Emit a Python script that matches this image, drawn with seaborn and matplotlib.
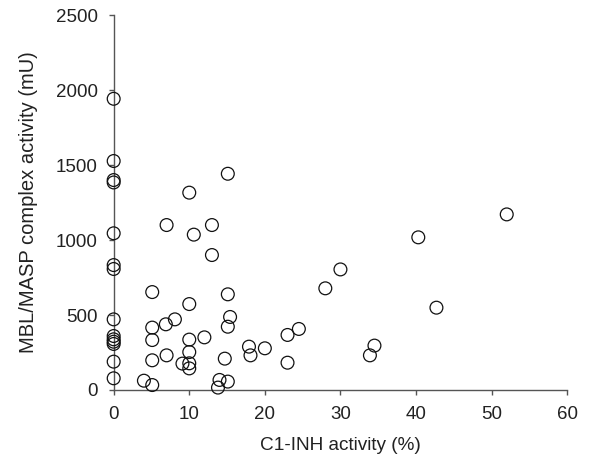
import matplotlib
matplotlib.use("Agg")
import matplotlib.pyplot as plt
import seaborn as sns
import pandas as pd

# C1-INH activity (%) vs MBL/MASP complex activity (mU)
c1_inh = [0, 0, 0, 0, 0, 0, 0, 0, 0, 0, 0, 0, 0, 0,
          15.1, 10.0, 7.0, 10.6, 13.0, 13.0, 5.1, 15.1, 10.0, 8.1,
          6.9, 5.1, 15.4, 15.1, 5.1, 10.0, 12.0, 10.0, 7.0, 5.1,
          9.1, 10.0, 10.0, 14.7, 17.9, 18.1, 20.0, 23.0, 24.5, 23.0,
          4.0, 5.1, 14.0, 13.8, 15.1, 28.0, 30.0, 40.3, 52.0, 42.7,
          34.5, 33.9]
mbl_masp = [1942, 1527, 1400, 1384, 1045, 833, 807, 471, 360, 338, 322, 307, 189, 78,
            1442, 1316, 1100, 1036, 1100, 900, 653, 638, 573, 471,
            438, 416, 487, 422, 333, 336, 351, 253, 231, 198,
            176, 178, 144, 209, 289, 231, 278, 367, 407, 182,
            62, 33, 67, 16, 56, 678, 804, 1018, 1171, 549,
            296, 231]

x_ticks = [0, 10, 20, 30, 40, 50, 60]
y_ticks = [0, 500, 1000, 1500, 2000, 2500]

df = pd.DataFrame({"c1_inh": c1_inh, "mbl_masp": mbl_masp})

sns.set_theme(style="ticks")
plt.rcParams["font.family"] = ["Liberation Sans", "DejaVu Sans"]

fig = plt.figure(figsize=(5.89, 4.58), dpi=100)
ax = fig.add_axes([0.193, 0.1485, 0.770, 0.8185])

sns.scatterplot(data=df, x="c1_inh", y="mbl_masp", ax=ax, s=85,
                marker="o", facecolor="none", edgecolor="#111111",
                linewidth=0.9, clip_on=False, zorder=3)

ax.set_xlim(0, 60)
ax.set_ylim(0, 2500)
ax.set_xticks(x_ticks)
ax.set_yticks(y_ticks)
sns.despine(ax=ax)
for side in ["left", "bottom"]:
    ax.spines[side].set_color("#555555")
    ax.spines[side].set_linewidth(1.0)
ax.tick_params(axis="both", colors="#555555", labelcolor="#222222",
               labelsize=13.5, length=3.5, width=1.0)
ax.tick_params(axis="x", pad=8)
ax.tick_params(axis="y", pad=8)

ax.set_xlabel("C1-INH activity (%)", fontsize=13.7, color="#222222", labelpad=10)
ax.set_ylabel("MBL/MASP complex activity (mU)", fontsize=14.5, color="#222222", labelpad=13)

fig.savefig("out.png", dpi=100)
